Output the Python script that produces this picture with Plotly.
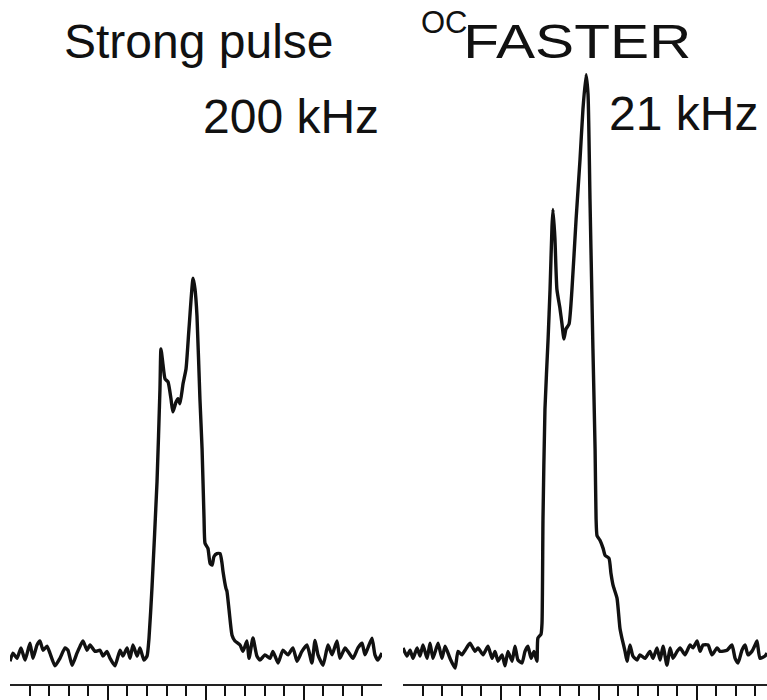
import plotly.graph_objects as go

# ---------------- data (intensity in % of the OC-FASTER maximum) ----------------
# Left panel: strong pulse, 200 kHz
strong_x = [
    0.00, 0.15, 0.36, 0.56, 0.77, 1.02, 1.17, 1.38, 1.53, 1.69,
    1.89, 2.04, 2.30, 2.55, 2.81, 2.96, 3.17, 3.42, 3.58, 3.73,
    3.93, 4.09, 4.34, 4.60, 4.75, 4.95, 5.11, 5.36, 5.62, 5.77,
    5.98, 6.13, 6.28, 6.49, 6.64, 6.84, 7.00,
    7.10, 7.25, 7.51, 7.66, 7.71, 7.81, 7.92, 8.07, 8.22, 8.32,
    8.48, 8.58, 8.68, 8.84, 8.99, 9.14, 9.35, 9.45, 9.55, 9.70,
    9.81, 9.91, 9.96, 10.11, 10.22, 10.32, 10.42, 10.57, 10.73, 10.83,
    10.88, 11.03, 11.08, 11.19, 11.34, 11.49,
    11.75, 11.90, 12.10, 12.21, 12.41, 12.61, 12.77, 13.02, 13.28, 13.43,
    13.69, 13.94, 14.20, 14.45, 14.66, 14.91, 15.17, 15.42, 15.58, 15.73,
    15.99, 16.24, 16.45, 16.70, 16.85, 17.11, 17.26, 17.52, 17.77, 17.98,
    18.13, 18.28, 18.49, 18.64, 18.79, 19.00,
]
strong_y = [
    -1.4, 0.0, -0.9, 0.9, -1.2, 1.7, -0.9, 1.4, 2.1, 0.5,
    1.2, 0.0, -2.2, -0.9, 0.9, 0.5, -2.1, 0.0, 1.2, 2.1,
    0.5, 1.4, 0.3, 0.5, -0.5, 0.3, -0.9, -2.2, 0.5, -0.5,
    0.9, -0.9, 1.4, -0.5, 0.9, -1.2, -0.5,
    2.6, 11.2, 29.7, 45.7, 52.6, 50.0, 47.4, 46.9, 44.0, 41.7,
    43.4, 44.0, 43.1, 46.6, 49.1, 56.0, 64.8, 62.9, 58.3, 44.0,
    35.3, 23.3, 19.0, 18.1, 15.5, 15.2, 16.7, 17.2, 17.2, 15.5,
    14.1, 11.2, 10.7, 7.4, 3.1, 2.1,
    1.4, 0.3, 2.1, -0.9, 2.6, -0.5, -1.2, -0.3, -0.9, 0.3,
    -1.7, 0.5, -0.3, 0.9, -1.4, 0.3, 1.4, -1.7, 2.2, -0.3,
    -2.1, 1.4, -0.3, 2.1, -0.9, 0.9, 0.3, -0.9, 0.9, 1.7,
    -0.3, 0.9, 2.6, -0.3, -1.2, 0.0,
]

# Right panel: OC-FASTER, 21 kHz
faster_x = [
    0.00, 0.20, 0.36, 0.51, 0.72, 0.87, 1.02, 1.23, 1.38, 1.53,
    1.79, 1.99, 2.15, 2.40, 2.66, 2.81, 3.01, 3.17, 3.42, 3.68,
    3.83, 4.09, 4.34, 4.55, 4.70, 4.85, 5.06, 5.21, 5.36, 5.57,
    5.72, 5.87, 6.08, 6.23, 6.38, 6.54, 6.69, 6.84, 6.89, 7.05,
    7.10, 7.15, 7.25, 7.41, 7.51, 7.61, 7.66, 7.76, 7.86, 8.02,
    8.12, 8.22, 8.32, 8.48, 8.63, 8.84, 9.04, 9.19, 9.35, 9.45,
    9.55, 9.65, 9.70, 9.81, 9.86, 9.91, 10.06, 10.22, 10.32, 10.52,
    10.62, 10.73, 10.93, 11.08, 11.18, 11.34, 11.44, 11.59, 11.74, 11.95,
    12.10, 12.36, 12.61, 12.77, 12.97, 13.13, 13.28, 13.48, 13.64, 13.79,
    14.00, 14.15, 14.40, 14.66, 14.81, 15.02, 15.17, 15.32, 15.58, 15.78,
    16.04, 16.19, 16.55, 16.80, 16.96, 17.11, 17.31, 17.47, 17.62, 17.82,
    17.98, 18.08, 18.23, 18.49, 18.59,
]
faster_y = [
    0.9, -0.5, 0.5, -0.9, 0.9, -0.5, 1.4, -0.9, 1.7, -0.9,
    1.7, -0.9, 1.2, -0.9, -2.6, 0.3, -0.3, 0.5, 1.7, 0.3,
    0.9, -0.3, 1.2, -0.9, 0.3, -1.4, -0.3, -2.2, 0.3, -1.4,
    1.2, -1.2, -1.7, 0.3, 1.2, -0.9, 0.3, -1.4, 2.6, 3.3,
    5.2, 23.3, 42.2, 54.3, 62.9, 73.8, 76.7, 71.6, 62.9, 59.5,
    56.9, 54.3, 56.0, 56.9, 62.9, 75.0, 85.3, 94.0, 100.0, 96.6,
    78.4, 61.2, 52.6, 35.3, 23.3, 20.3, 19.5, 18.1, 16.9, 16.4,
    13.8, 11.7, 9.5, 4.3, 2.6, 0.3, -1.4, 1.4, -0.5, -1.2,
    -0.3, -0.9, 0.3, -0.9, 0.9, -1.2, 1.2, -2.1, 0.9, -0.9,
    0.3, 0.9, -0.3, 1.4, 0.9, 2.1, 0.3, 1.4, 1.4, -0.3,
    0.9, 0.3, 0.5, 1.4, -0.9, -1.7, 0.5, 1.4, -0.3, 0.3,
    1.4, 2.1, -0.9, -0.5, 0.0,
]

major_ticks = [5, 10, 15]
minor_ticks = [1, 2, 3, 4, 6, 7, 8, 9, 11, 12, 13, 14, 16, 17, 18]

title_left = "Strong pulse"
field_left = "200 kHz"
title_right_sup = "OC"
title_right = "FASTER"
field_right = "21 kHz"

# ---------------- figure ----------------
W, H = 767, 700
FONT = "Liberation Sans, Arial, Helvetica, sans-serif"
LINE = "#111111"

fig = go.Figure()
for xs, ys, xa, ya in ((strong_x, strong_y, "x", "y"), (faster_x, faster_y, "x2", "y2")):
    fig.add_trace(go.Scatter(x=xs, y=ys, mode="lines",
                             line=dict(color=LINE, width=3.4, shape="spline", smoothing=0.5),
                             xaxis=xa, yaxis=ya, showlegend=False, hoverinfo="skip"))


def xaxis_style(domain, rng, anchor):
    return dict(
        domain=domain, range=rng, anchor=anchor, showgrid=False, zeroline=False,
        showline=True, linecolor="#222222", linewidth=1.5,
        ticks="outside", tickmode="array", tickvals=major_ticks,
        ticklen=16, tickwidth=2, tickcolor="#111111", showticklabels=False,
        minor=dict(tickmode="array", tickvals=minor_ticks, ticks="outside",
                   ticklen=10, tickwidth=2, tickcolor="#111111", showgrid=False),
        fixedrange=True,
    )


yrange = [-5.34, 112.9]
fig.update_layout(
    width=W, height=H,
    margin=dict(l=0, r=0, t=0, b=14),
    paper_bgcolor="white", plot_bgcolor="white",
    xaxis=xaxis_style([10 / W, 382 / W], [0, 19], "y"),
    xaxis2=xaxis_style([403 / W, 1.0], [0, 18.59], "y2"),
    yaxis=dict(range=yrange, visible=False, domain=[0, 1], fixedrange=True),
    yaxis2=dict(range=yrange, visible=False, domain=[0, 1], anchor="x2", fixedrange=True),
    font=dict(family=FONT, color="#111111"),
)

PH = H - 14  # plot height in px


def add_text(text, x_px, y_px, size, xanchor):
    fig.add_annotation(text=text, x=x_px / W, y=1 - y_px / PH,
                       xref="paper", yref="paper", xanchor=xanchor, yanchor="middle",
                       showarrow=False, font=dict(family=FONT, size=size, color="#111111"))


add_text(title_left, 62, 42, 48, "left")
add_text(field_left, 381, 117, 48, "right")
add_text(title_right_sup, 419, 23, 31, "left")
add_text(title_right, 577, 42, 48, "center")
add_text(field_right, 760, 114, 48, "right")

post = """
document.body.style.margin = '0px';
document.querySelectorAll('.annotation-text').forEach(function (t) {
  if (t.textContent === 'FASTER') {
    t.setAttribute('textLength', '228');
    t.setAttribute('lengthAdjust', 'spacingAndGlyphs');
  }
});
"""

fig.write_html("out.html", post_script=post, config={"displayModeBar": False})
